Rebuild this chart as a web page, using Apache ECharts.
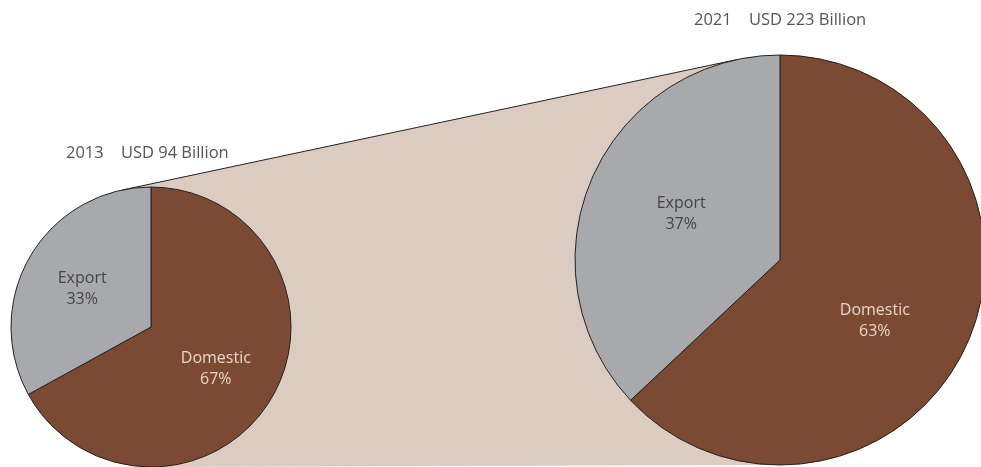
<!DOCTYPE html>
<html>
<head>
<meta charset="utf-8">
<script src="https://cdn.jsdelivr.net/npm/echarts@6/dist/echarts.min.js"></script>
<style>html,body{margin:0;padding:0;background:#fff;}#c{width:981px;height:467px;}</style>
</head>
<body>
<div id="c"></div>
<script>
const categories = ['Domestic', 'Export'];
const share2013 = [67, 33];
const share2021 = [63, 37];
const titles = ['2013    USD 94 Billion', '2021    USD 223 Billion'];

const colors = ['#7c4a32', '#a8a9ad'];
const labelColors = ['#e8d6cb', '#444444'];
const small = { cx: 151, cy: 327, r: 140 };
const big = { cx: 780, cy: 260, r: 205 };
// label nudges [dx, dy] per series / category
const labelNudge = [
  [[2, 5], [-6, -1]],
  [[-2, 19], [-2, -4]]
];

// external tangent points between the two circles
function tangents(a, b) {
  const dx = b.cx - a.cx, dy = b.cy - a.cy;
  const D = Math.hypot(dx, dy);
  const th = Math.atan2(dy, dx);
  const al = Math.acos(-(b.r - a.r) / D);
  return [th - al, th + al].map(function (phi) {
    const nx = Math.cos(phi), ny = Math.sin(phi);
    return [[a.cx + a.r * nx, a.cy + a.r * ny], [b.cx + b.r * nx, b.cy + b.r * ny]];
  });
}
const tg = tangents(small, big);

function makeData(vals) {
  return categories.map(function (c, i) {
    return {
      name: c, value: vals[i],
      itemStyle: { color: colors[i] },
      label: { color: labelColors[i] }
    };
  });
}

function pieSeries(vals, geo) {
  return {
    type: 'pie',
    center: [geo.cx, geo.cy],
    radius: geo.r,
    startAngle: 90,
    clockwise: true,
    silent: true,
    z: 5,
    itemStyle: { borderColor: '#222', borderWidth: 1 },
    label: {
      show: true, position: 'inside',
      formatter: function (p) { return p.name + '\n' + p.value + '%'; },
      fontFamily: 'Open Sans', fontSize: 16, lineHeight: 21
    },
    labelLine: { show: false },
    labelLayout: function (p) {
      const n = labelNudge[p.seriesIndex][p.dataIndex];
      return { dx: n[0], dy: n[1] };
    },
    data: makeData(vals)
  };
}

const titleStyle = { fontFamily: 'Open Sans', fontSize: 16.5, fontWeight: 'normal', color: '#555' };
const chart = echarts.init(document.getElementById('c'), null, { renderer: 'canvas' });
chart.setOption({
  animation: false,
  title: [
    { text: titles[0], left: 66, top: 145, padding: 0, textStyle: titleStyle },
    { text: titles[1], left: 694, top: 12, padding: 0, textStyle: titleStyle }
  ],
  graphic: [{
    type: 'polygon', z: 1, silent: true,
    shape: { points: [tg[0][0], tg[0][1], tg[1][1], tg[1][0]] },
    style: { fill: '#dbcbc1', stroke: null }
  }, {
    type: 'line', z: 2, silent: true,
    shape: { x1: tg[0][0][0], y1: tg[0][0][1], x2: tg[0][1][0], y2: tg[0][1][1] },
    style: { stroke: '#222', lineWidth: 1 }
  }],
  series: [pieSeries(share2013, small), pieSeries(share2021, big)]
});
</script>
</body>
</html>
